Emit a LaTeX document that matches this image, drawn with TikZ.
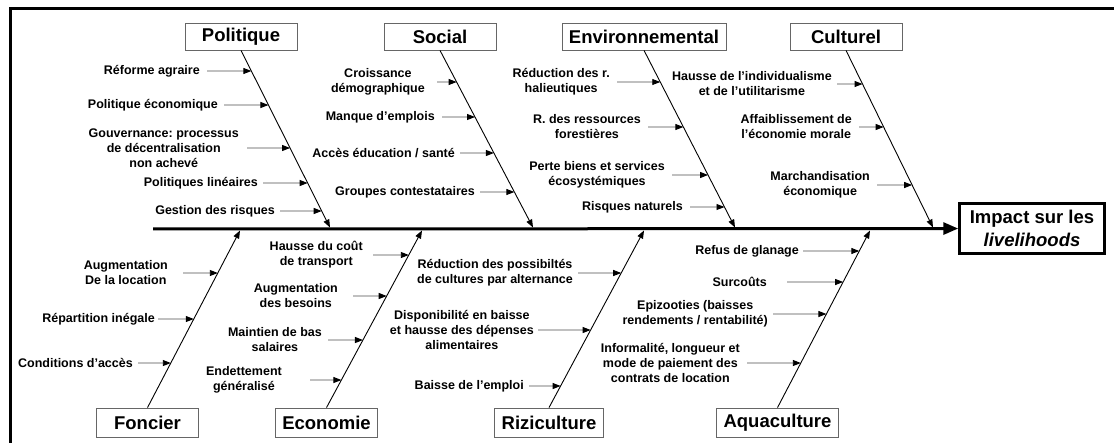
\documentclass[tikz,border=0pt]{standalone}
\usepackage{fontspec}
\setmainfont{Liberation Sans}
\usetikzlibrary{arrows.meta,calc}
\frenchspacing

\begin{document}
\begin{tikzpicture}[x=1pt,y=-1pt,
  cat/.style={draw=black!60,line width=0.8pt,fill=white,inner xsep=7pt,inner ysep=0pt,
              minimum width=112pt,minimum height=27pt,
              font=\fontsize{18.5}{22}\selectfont\bfseries},
  botcat/.style={cat,minimum width=102pt,minimum height=29pt},
  effect/.style={draw,line width=2.5pt,align=center,minimum width=145pt,
                 minimum height=50pt,font=\fontsize{18.5}{23}\selectfont\bfseries},
  cause/.style={align=center,anchor=east,inner sep=1pt,
                font=\fontsize{12.5}{15}\selectfont\bfseries},
  bone/.style={line width=0.9pt,-{Triangle[length=8pt,width=6pt]}},
  sub/.style={draw=black!70,line width=0.9pt,-{Triangle[length=8pt,width=6pt,color=black]}},
  spine/.style={line width=3pt,-{Triangle[length=15pt,width=12pt]}}]
\useasboundingbox (0,0) rectangle (1114,443);
\draw[line width=3pt] (10.5,443) |- (1114,8.5);

% head and spine
\node[effect] (impact) at (1032,228.5) {Impact sur les\\\textit{livelihoods}};
\coordinate (tail) at (153,229);
\draw[spine] (tail) -- (impact);

% categories
\node[cat] (pol) at (241,36.5) {Politique};
\node[cat] (soc) at (440,36.5) {Social};
\node[cat] (env) at (644,36.5) {Environnemental};
\node[cat] (cul) at (846,36.5) {Culturel};
\node[botcat] (fon) at (147.5,422.5) {Foncier};
\node[botcat] (eco) at (326.5,422.5) {Economie};
\node[botcat] (riz) at (549,422.5) {Riziculture};
\node[botcat] (aqu) at (777.5,422.5) {Aquaculture};

\coordinate (pol-b) at (330,227.5);
\coordinate (soc-b) at (533,227.5);
\coordinate (env-b) at (735,227.5);
\coordinate (cul-b) at (933,227.5);
\coordinate (fon-b) at (240,230.5);
\coordinate (eco-b) at (422,230.5);
\coordinate (riz-b) at (644,230.5);
\coordinate (aqu-b) at (870,230.5);
\foreach \b in {pol,soc,env,cul}
  \draw[bone] (\b.south) -- (\b-b);
\foreach \b in {fon,eco,riz,aqu}
  \draw[bone] (\b.north) -- (\b-b);

% causes
\node[cause] (pol1) at (201,71) {Réforme agraire};
\node[cause] (pol2) at (219,105) {Politique économique};
\node[cause] (pol3) at (240,148) {Gouvernance: processus\\de décentralisation\\non achevé};
\node[cause] (pol4) at (259,183) {Politiques linéaires};
\node[cause] (pol5) at (276,211) {Gestion des risques};

\node[cause] (soc1) at (426,82) {Croissance\\démographique};
\node[cause] (soc2) at (436,117) {Manque d’emplois};
\node[cause] (soc3) at (456,153) {Accès éducation / santé};
\node[cause] (soc4) at (476,192) {Groupes contestataires};

\node[cause] (env1) at (611,82) {Réduction des r.\\halieutiques};
\node[cause] (env2) at (642,127) {R. des ressources\\forestières};
\node[cause] (env3) at (666,175) {Perte biens et services\\écosystémiques};
\node[cause] (env4) at (684,207) {Risques naturels};

\node[cause] (cul1) at (833,84) {Hausse de l’individualisme\\et de l’utilitarisme};
\node[cause] (cul2) at (853,127) {Affaiblissement de\\l’économie morale};
\node[cause] (cul3) at (871,185) {Marchandisation\\économique};

\node[cause] (fon1) at (169,273) {Augmentation\\De la location};
\node[cause] (fon2) at (156,319) {Répartition inégale};
\node[cause] (fon3) at (134,363) {Conditions d’accès};

\node[cause] (eco1) at (364,255) {Hausse du coût\\de transport};
\node[cause] (eco2) at (339,296) {Augmentation\\des besoins};
\node[cause] (eco3) at (323,340) {Maintien de bas\\salaires};
\node[cause] (eco4) at (283,380) {Endettement\\généralisé};

\node[cause] (riz1) at (574,273) {Réduction des possibiltés\\de cultures par alternance};
\node[cause] (riz2) at (535,330) {Disponibilité en baisse\\et hausse des dépenses\\alimentaires};
\node[cause] (riz3) at (525,386) {Baisse de l’emploi};

\node[cause] (aqu1) at (800,251) {Refus de glanage};
\node[cause] (aqu2) at (768,282) {Surcoûts};
\node[cause] (aqu3) at (769,314) {Epizooties (baisses\\rendements / rentabilité)};
\node[cause] (aqu4) at (741,363) {Informalité, longueur et\\mode de paiement des\\contrats de location};

\foreach \b/\n/\g in {pol/1/6,pol/2/5,pol/3/7,pol/4/4,pol/5/4,
                      soc/1/11,soc/2/6,soc/3/4,soc/4/4,
                      env/1/6,env/2/6,env/3/6,env/4/6,
                      cul/1/4,cul/2/6,cul/3/6}{
  \coordinate (\b\n-e) at (intersection of \b.south--\b-b and \b\n.east--\b\n.west);
  \draw[sub,shorten <=\g pt] (\b\n) -- (\b\n-e);
}
\foreach \b/\n/\g in {fon/1/14,fon/2/2,fon/3/4,
                      eco/1/9,eco/2/14,eco/3/5,eco/4/27,
                      riz/1/4,riz/2/3,riz/3/4,
                      aqu/1/3,aqu/2/19,aqu/3/4,aqu/4/6}{
  \coordinate (\b\n-e) at (intersection of \b.north--\b-b and \b\n.east--\b\n.west);
  \draw[sub,shorten <=\g pt] (\b\n) -- (\b\n-e);
}
\end{tikzpicture}
\end{document}
